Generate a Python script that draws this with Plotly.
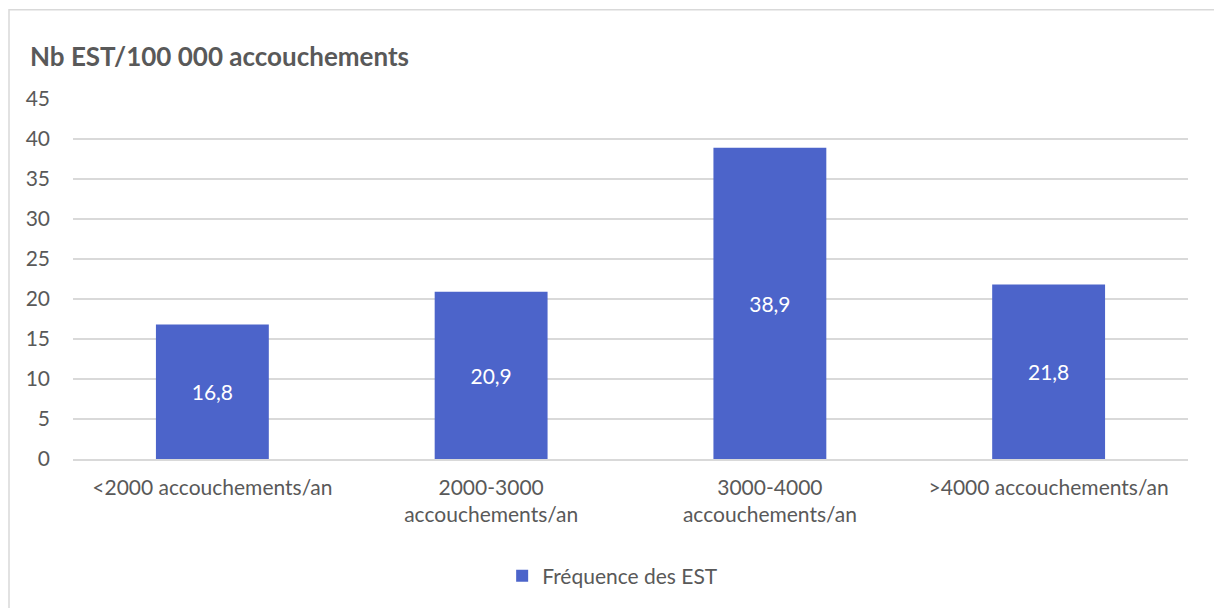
import plotly.graph_objects as go

categories = [
    "<2000 accouchements/an",
    "2000-3000<br>accouchements/an",
    "3000-4000<br>accouchements/an",
    ">4000 accouchements/an",
]
values = [16.8, 20.9, 38.9, 21.8]
labels = ["16,8", "20,9", "38,9", "21,8"]
y_ticks = [0, 5, 10, 15, 20, 25, 30, 35, 40, 45]

FONT = "Lato, 'Open Sans', sans-serif"
GREY = "#595959"

fig = go.Figure(
    go.Bar(
        x=categories,
        y=values,
        name="Fréquence des EST",
        text=labels,
        textposition="inside",
        insidetextanchor="middle",
        textfont=dict(color="white", size=21, family=FONT),
        marker=dict(color="#4c64ca", line=dict(width=0)),
        showlegend=True,
    )
)

# light grey frame around the chart area
fig.add_shape(
    type="rect", xref="paper", yref="paper",
    x0=-0.0574, x1=1.03, y0=-0.42, y1=1.248,
    line=dict(color="#d9d9d9", width=1.5), layer="below",
)

fig.update_layout(
    width=1214, height=608,
    title=dict(
        text="<b>Nb EST/100 000 accouchements</b>",
        xref="container", yref="container",
        x=30 / 1214, y=1 - 57 / 608,
        xanchor="left", yanchor="middle",
        font=dict(size=26, color=GREY, family=FONT),
    ),
    font=dict(family=FONT, color=GREY, size=21),
    bargap=0.595,
    plot_bgcolor="white", paper_bgcolor="white",
    margin=dict(l=73, r=26, t=99, b=146),
    xaxis=dict(
        showgrid=False, showline=True, linecolor="#d9d9d9", linewidth=1.5,
        ticks="", tickfont=dict(size=21, color=GREY), ticklabelstandoff=9,
    ),
    yaxis=dict(
        range=[0, 45], tickvals=y_ticks, showgrid=True,
        gridcolor="#d9d9d9", gridwidth=1.5, zeroline=False,
        showline=False, ticks="", ticklabelstandoff=22,
        tickfont=dict(size=21, color=GREY),
    ),
    legend=dict(
        orientation="h", x=0.484, xanchor="center", y=-0.325, yanchor="middle",
        font=dict(size=21, color=GREY),
    ),
)

fig.write_html(
    "out.html",
    config={"displayModeBar": False},
    post_script="document.body.style.margin='0';",
)
